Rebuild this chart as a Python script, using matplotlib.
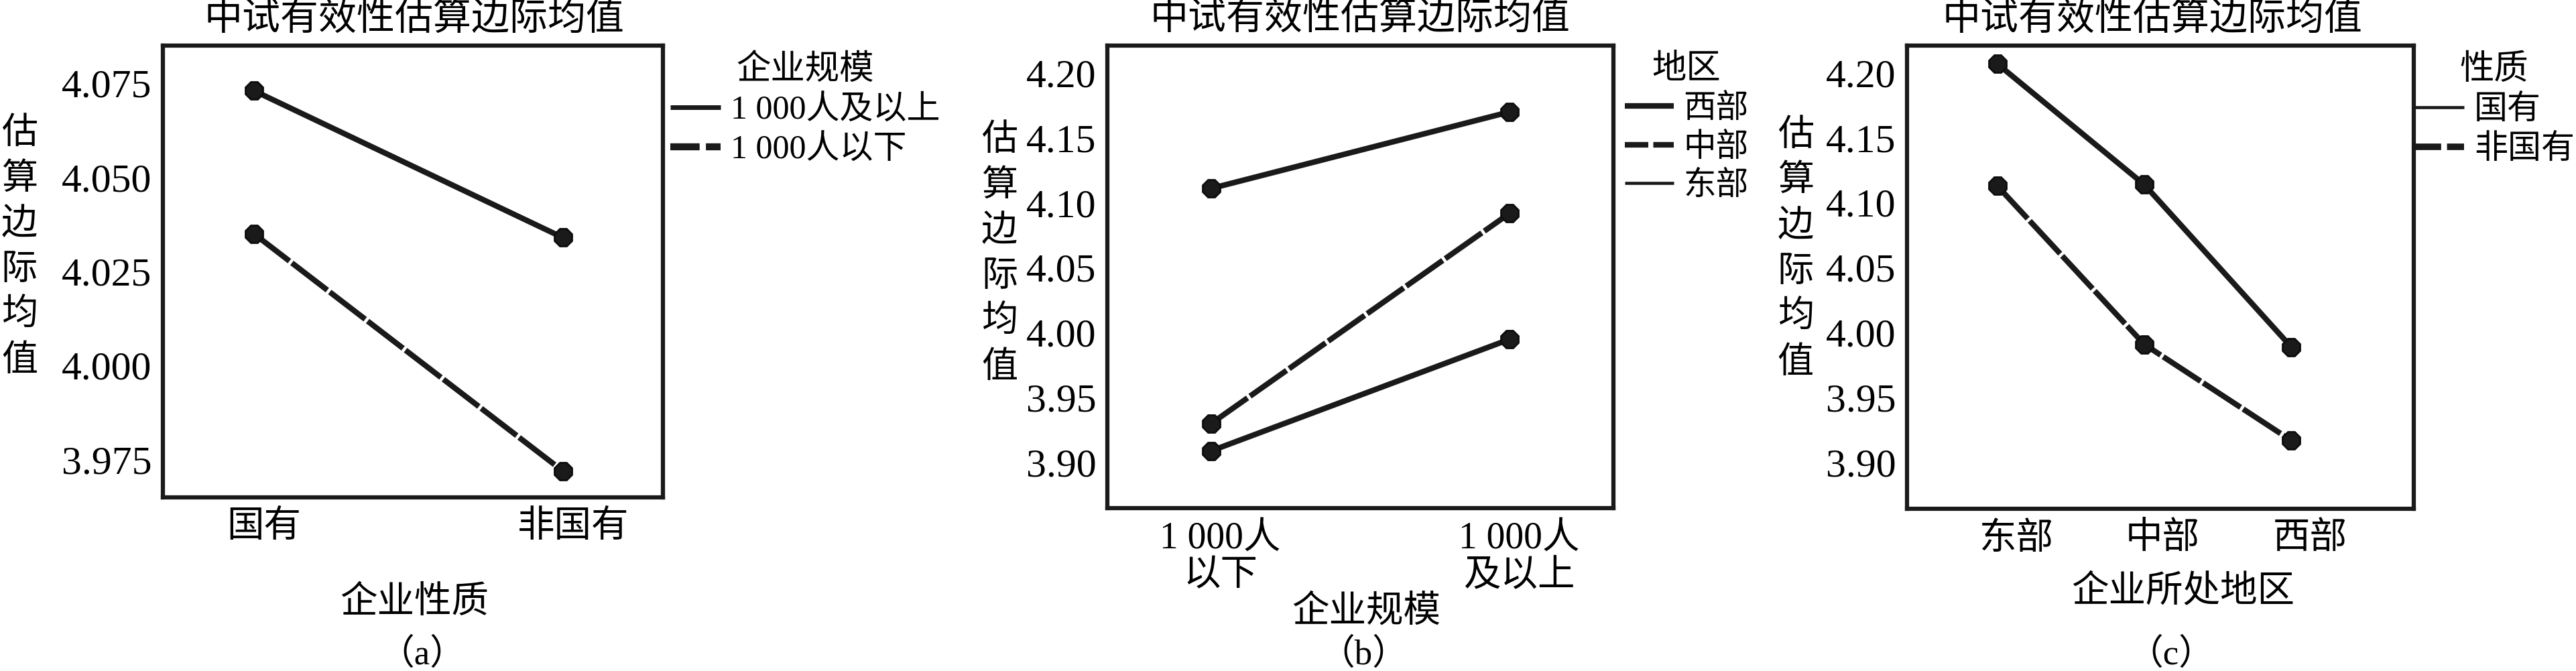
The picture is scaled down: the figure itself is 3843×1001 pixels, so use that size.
import matplotlib
matplotlib.use("Agg")
import matplotlib.pyplot as plt
import matplotlib.transforms as mtransforms
from matplotlib.ticker import FixedLocator, FormatStrFormatter

plt.rcParams['font.family'] = ['Liberation Serif', 'Noto Sans CJK SC']

TITLE = '中试有效性估算边际均值'
YLABEL = '估算边际均值'

# (a) 企业性质 x 企业规模
a_cats = ['国有', '非国有']
a_big = [4.073, 4.034]      # 1 000人及以上
a_small = [4.035, 3.972]    # 1 000人以下
a_ticks = [3.975, 4.000, 4.025, 4.050, 4.075]

# (b) 企业规模 x 地区
b_cats = ['1 000人\n以下', '1 000人\n及以上']
b_west = [4.111, 4.170]
b_mid = [3.930, 4.092]
b_east = [3.909, 3.995]
bc_ticks = [3.90, 3.95, 4.00, 4.05, 4.10, 4.15, 4.20]

# (c) 企业所处地区 x 性质
c_cats = ['东部', '中部', '西部']
c_state = [4.207, 4.114, 3.989]
c_private = [4.113, 3.991, 3.917]

INK = '#1a1a1a'
W, H = 3843, 1001


def make_axes(fig, left, top, right, bottom):
    return fig.add_axes([left / W, 1 - bottom / H, (right - left) / W, (bottom - top) / H])


def style(ax, cats, ticks, fmt, xlim, ylim, shift=0):
    ax.set_xlim(*xlim)
    ax.set_ylim(*ylim)
    ax.set_xticks(range(len(cats)))
    ax.set_xticklabels(cats, fontsize=40, linespacing=1.1)
    ax.yaxis.set_major_locator(FixedLocator(ticks))
    ax.yaxis.set_major_formatter(FormatStrFormatter(fmt))
    ax.tick_params(axis='y', length=0, pad=12, labelsize=43)
    ax.tick_params(axis='x', length=0, pad=14)
    # tick labels in the source sit a little right of the points
    off = mtransforms.ScaledTranslation(shift / 72, 0, ax.figure.dpi_scale_trans)
    for lab in ax.get_xticklabels():
        lab.set_transform(lab.get_transform() + off)
    for s in ax.spines.values():
        s.set_linewidth(4.5)
        s.set_color(INK)


def series(ax, y, label, ls='-', lw=6.0):
    x = range(len(y))
    line, = ax.plot(x, y, color=INK, lw=lw, label=label, solid_capstyle='butt')
    if ls == '--':
        line.set_dashes((8, 0.55))
    ax.plot(x, y, '8', color=INK, ms=20, mec='#0d0d0d', mew=2, zorder=4)


def labels(ax, xl, xl_pos, yl_pos, tag, tag_pos, title_pos):
    ax.text(title_pos[0], title_pos[1], TITLE, transform=ax.transAxes,
            ha='center', va='center', fontsize=41)
    ax.set_ylabel('\n'.join(YLABEL), rotation=0, fontsize=39, linespacing=1.45,
                  ha='center', va='center')
    ax.yaxis.set_label_coords(*yl_pos)
    ax.set_xlabel(xl, fontsize=40, va='center')
    ax.xaxis.set_label_coords(*xl_pos)
    ax.text(tag_pos[0], tag_pos[1], tag, transform=ax.transAxes,
            ha='center', va='center', fontsize=38)


def legend(ax, title, anchor, widths, dashed, fs=36):
    leg = ax.legend(loc='upper left', bbox_to_anchor=anchor, frameon=False,
                    title=title, title_fontsize=37, fontsize=fs,
                    borderpad=0, borderaxespad=0, handlelength=1.5,
                    handletextpad=0.3, labelspacing=0.25)
    for ln, w, d in zip(leg.get_lines(), widths, dashed):
        ln.set_linewidth(w)
        if d:
            ln.set_dashes((4.2, 0.9))
        else:
            ln.set_linestyle('-')
    return leg


fig = plt.figure(figsize=(W / 100, H / 100), dpi=100)

# ---- (a)
ax = make_axes(fig, 243, 68, 989, 742)
series(ax, a_big, '1 000人及以上')
series(ax, a_small, '1 000人以下', ls='--')
style(ax, a_cats, a_ticks, '%.3f', (-0.295, 1.324), (3.965, 4.085), shift=11)
labels(ax, '企业性质', (0.503, -0.234), (-0.287, 0.552), '（a）', (0.519, -0.349), (0.503, 1.058))
legend(ax, '企业规模', (1.015, 0.98), [5, 7.5], [False, True])

# ---- (b)
ax = make_axes(fig, 1652, 68, 2407, 758)
series(ax, b_west, '西部')
series(ax, b_mid, '中部', ls='--')
series(ax, b_east, '东部')
style(ax, b_cats, bc_ticks, '%.2f', (-0.347, 1.347), (3.865, 4.221), shift=10)
labels(ax, '企业规模', (0.511, -0.225), (-0.213, 0.548), '（b）', (0.507, -0.317), (0.5, 1.057))
legend(ax, '地区', (1.022, 0.98), [6, 6, 3.3], [False, True, False], fs=35)

# ---- (c)
ax = make_axes(fig, 2845, 68, 3601, 759)
series(ax, c_state, '国有')
series(ax, c_private, '非国有', ls='--')
style(ax, c_cats, bc_ticks, '%.2f', (-0.614, 2.834), (3.8644, 4.221), shift=20)
labels(ax, '企业所处地区', (0.544, -0.181), (-0.22, 0.559), '（c）', (0.521, -0.315), (0.484, 1.056))
legend(ax, '性质', (1.0, 0.98), [3.3, 7], [False, True])

fig.savefig('out.png', dpi=100)
